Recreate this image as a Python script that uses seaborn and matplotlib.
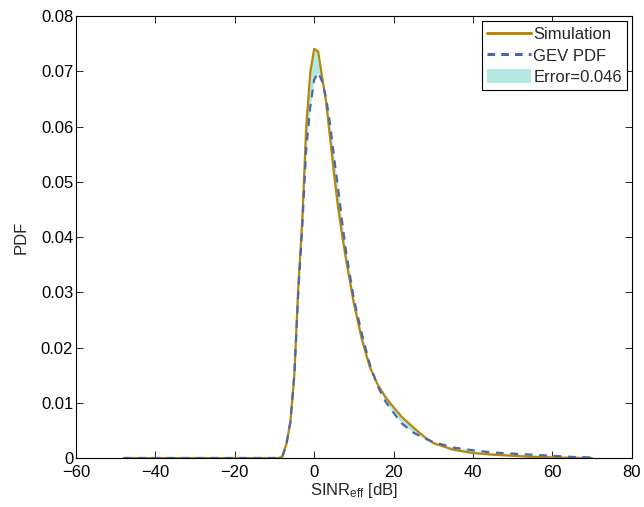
import numpy as np
import pandas as pd
import matplotlib
matplotlib.use('Agg')
import matplotlib.pyplot as plt
import seaborn as sns
from matplotlib.patches import Patch
from matplotlib.lines import Line2D

# SINR grid [dB]
sinr_db = [-48, -10, -9, -8, -7, -6, -5, -4, -3, -2, -1, 0, 1, 2, 3, 4, 5, 6, 7, 8,
           10, 12, 14, 16, 18, 20, 22, 25, 28, 30, 35, 40, 45, 50, 55, 60, 65, 70]

# simulated PDF
pdf_sim = [0, 0, 0, 0.0003, 0.0025, 0.0065, 0.015, 0.031, 0.043, 0.060, 0.0697, 0.0741,
           0.0736, 0.0690, 0.0645, 0.0580, 0.0515, 0.0455, 0.0405, 0.0360,
           0.0280, 0.0215, 0.0165, 0.0133, 0.0110, 0.0092, 0.0075, 0.0055, 0.0037,
           0.0027, 0.0015, 0.0009, 0.0006, 0.0004, 0.0002, 0.0001, 0.00005, 0]

# fitted GEV PDF
pdf_gev = [0, 0, 0, 0.0003, 0.0025, 0.0065, 0.015, 0.030, 0.042, 0.056, 0.0635, 0.0685,
           0.0698, 0.0682, 0.0652, 0.0605, 0.0545, 0.0490, 0.0430, 0.0375,
           0.0288, 0.0225, 0.0170, 0.0130, 0.0102, 0.0082, 0.0063, 0.0046, 0.0035,
           0.0029, 0.0019, 0.0014, 0.0010, 0.0008, 0.0006, 0.0004, 0.0002, 0.0001]

labels = ['Simulation', 'GEV PDF', 'Error=0.046']

sns.set_style('white')
plt.rcParams['font.family'] = ['Liberation Sans', 'DejaVu Sans']
plt.rcParams['mathtext.fontset'] = 'custom'
plt.rcParams['mathtext.rm'] = 'Liberation Sans'
plt.rcParams['mathtext.it'] = 'Liberation Sans:italic'
plt.rcParams['font.size'] = 12

c_sim = '#b8860b'
c_gev = '#4a68a8'
c_err = '#b4e8e2'

df = pd.DataFrame({'x': sinr_db, 'sim': pdf_sim, 'gev': pdf_gev})

fig = plt.figure(figsize=(6.44, 5.07), dpi=100)
ax = fig.add_axes([0.118, 0.0966, 0.863, 0.8714])

ax.fill_between(df['x'], df['sim'], df['gev'], color=c_err, linewidth=0)
sns.lineplot(data=df, x='x', y='sim', ax=ax, color=c_sim, linewidth=1.6)
sns.lineplot(data=df, x='x', y='gev', ax=ax, color=c_gev, linewidth=1.6,
             linestyle=(0, (3.5, 3)))

ax.set_xlim(-60, 80)
ax.set_ylim(0, 0.08)
ax.set_xticks(np.arange(-60, 81, 20))
ax.set_yticks(np.arange(0, 0.081, 0.01))
ax.set_yticklabels(['0'] + [f'{v:.2f}' for v in np.arange(0.01, 0.081, 0.01)])
ax.set_xlabel(r'SINR$_{\mathrm{eff}}$ [dB]', labelpad=1)
ax.set_ylabel('PDF', labelpad=9)

for s in ax.spines.values():
    s.set_color('black')
    s.set_linewidth(0.8)
ax.tick_params(direction='in', length=5, width=0.6, top=True, right=True,
               bottom=True, left=True, colors='black', labelsize=12, pad=2)
ax.tick_params(axis='x', pad=5)

handles = [Line2D([], [], color=c_sim, linewidth=2.2),
           Line2D([], [], color=c_gev, linewidth=2.2, linestyle=(0, (2.5, 2))),
           Patch(facecolor=c_err, edgecolor='none')]
leg = ax.legend(handles, labels, loc='upper right', fancybox=False, framealpha=1,
                edgecolor='black', borderaxespad=0.3, handlelength=2.6,
                handletextpad=0.15, borderpad=0.3, labelspacing=0.3,
                handleheight=1.0)
leg.get_frame().set_linewidth(0.8)

fig.savefig('out.png', dpi=100)
